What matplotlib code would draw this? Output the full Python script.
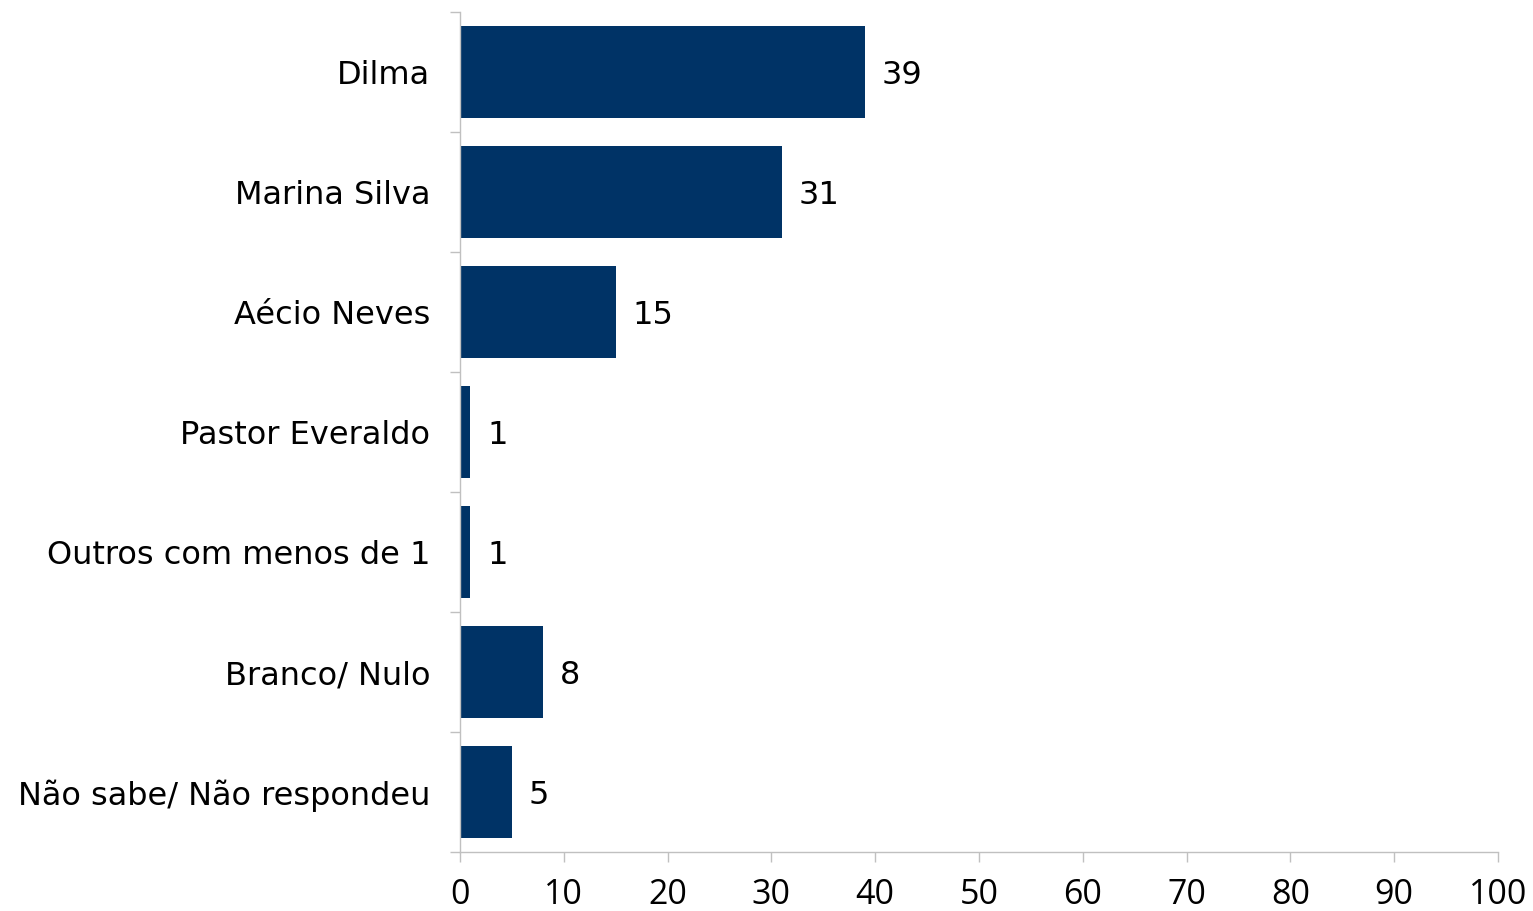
import matplotlib.pyplot as plt
import numpy as np

categories = [
    "Dilma",
    "Marina Silva",
    "Aécio Neves",
    "Pastor Everaldo",
    "Outros com menos de 1",
    "Branco/ Nulo",
    "Não sabe/ Não respondeu",
]
values = [39, 31, 15, 1, 1, 8, 5]
xticks = list(range(0, 101, 10))

bar_color = "#003366"
axis_color = "#c0c0c0"

fig = plt.figure(figsize=(15.33, 9.11), dpi=100)
ax = fig.add_axes([460 / 1533, 1 - 852 / 911, 1038 / 1533, 840 / 911])

y = np.arange(len(categories))
ax.barh(y, values, height=0.77, color=bar_color, zorder=2)

for yi, v in zip(y, values):
    ax.annotate(str(v), (v, yi), xytext=(17, -3), textcoords="offset pixels",
                ha="left", va="center", fontsize=23, family="DejaVu Sans")

ax.set_xlim(0, 100)
ax.set_ylim(len(categories) - 0.5, -0.5)
ax.set_xticks(xticks)
ax.set_xticklabels([str(t) for t in xticks], fontsize=24.5, family="Open Sans")

# category labels at centers, tick marks at boundaries
ax.set_yticks(y)
ax.set_yticklabels(categories, fontsize=23, family="DejaVu Sans")
ax.tick_params(axis="y", length=0, pad=21.5)
ax.set_yticks(np.arange(-0.5, len(categories) + 0.5, 1), minor=True)
ax.tick_params(axis="y", which="minor", length=7.5, color=axis_color, width=1)
ax.tick_params(axis="x", length=7.5, color=axis_color, width=1, pad=11)

for side in ["top", "right"]:
    ax.spines[side].set_visible(False)
for side in ["left", "bottom"]:
    ax.spines[side].set_color(axis_color)
    ax.spines[side].set_linewidth(1)

fig.savefig("out.png", dpi=100)
